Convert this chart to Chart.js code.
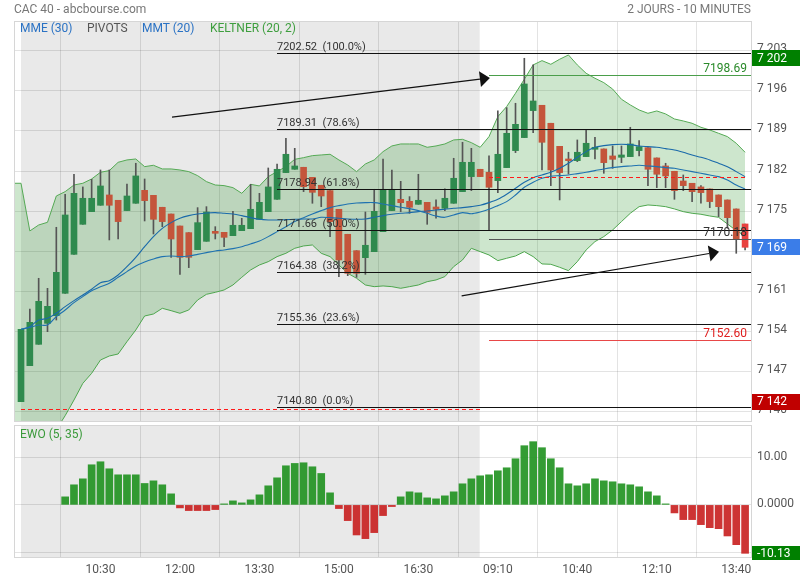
<!DOCTYPE html>
<html>
<head>
<meta charset="utf-8">
<script src="https://cdn.jsdelivr.net/npm/chart.js@4.4.0/dist/chart.umd.min.js"></script>
<style>
  body { margin: 0; background: #fff; font-family: Roboto, sans-serif; }
  #wrap { position: relative; width: 800px; height: 580px; overflow: hidden; }
  canvas { position: absolute; left: 0; }
  .txt { position: absolute; font-size: 12px; line-height: 14px; white-space: pre; }
</style>
</head>
<body>
<div id="wrap">
  <canvas id="main" width="800" height="425" style="top:0"></canvas>
  <canvas id="ewo" width="800" height="155" style="top:425px"></canvas>
  <div class="txt" style="left:14px;top:2px;color:#777">CAC 40 - abcbourse.com</div>
  <div class="txt" style="right:49px;top:2px;color:#777">2 JOURS - 10 MINUTES</div>
  <div class="txt" style="left:20px;top:21px;color:#2a72c4">MME (30)</div>
  <div class="txt" style="left:87px;top:21px;color:#555">PIVOTS</div>
  <div class="txt" style="left:142px;top:21px;color:#2a72c4">MMT (20)</div>
  <div class="txt" style="left:210px;top:21px;color:#3e9e3e">KELTNER (20, 2)</div>
  <div class="txt" style="left:20px;top:427px;color:#3a9a3a">EWO (5, 35)</div>
</div>
<script>
// bougies 10 minutes : index 0..52 = jour 1, 53..82 = jour 2
const opens = [7141.75,7148.03,7151.76,7155.42,7156.76,7160.66,7167.46,7172.70,7174.91,7176.02,
  7177.82,7176.89,7175.09,7176.37,7178.63,7177.76,7175.67,7174.50,7172.41,7171.25,
  7168.28,7169.73,7171.48,7171.30,7170.72,7171.59,7171.94,7173.57,7174.91,7177.06,
  7181.72,7182.30,7182.65,7180.90,7179.51,7178.58,7175.32,7170.96,7168.10,7166.88,
  7167.93,7171.42,7175.09,7177.06,7176.71,7176.19,7176.54,7175.72,7175.49,7176.37,
  7178.40,7181.02,7182.30,7181.78,7180.32,7182.59,7185.56,7187.83,7192.54,7193.47,
  7190.33,7186.31,7184.10,7183.81,7184.51,7185.79,7185.85,7184.63,7184.39,7184.51,
  7185.56,7186.08,7184.28,7182.88,7181.95,7180.26,7179.86,7179.22,7178.87,7177.82,
  7176.95,7175.38,7172.76];
const highs = [7154.38,7157.92,7163.28,7161.53,7172.18,7177.94,7181.43,7179.22,7180.55,7182.18,
  7182.18,7176.89,7179.74,7183.35,7180.61,7177.76,7175.67,7174.50,7172.41,7171.25,
  7175.61,7175.78,7172.29,7171.30,7174.97,7173.75,7179.68,7178.11,7182.53,7183.23,
  7187.71,7185.96,7182.65,7180.90,7179.51,7178.58,7175.32,7170.96,7168.10,7174.85,
  7178.81,7184.10,7182.18,7180.20,7177.53,7181.43,7176.54,7176.95,7178.87,7184.22,
  7187.01,7185.96,7182.30,7184.63,7192.48,7193.06,7193.82,7201.67,7200.51,7193.47,
  7190.33,7186.31,7185.27,7187.42,7189.16,7187.88,7185.85,7186.37,7186.37,7189.63,
  7187.30,7186.08,7184.28,7183.35,7181.95,7181.31,7179.86,7179.45,7178.87,7177.82,
  7176.95,7175.38,7172.76];
const lows = [7141.75,7148.03,7151.76,7153.97,7156.00,7160.66,7167.46,7172.70,7174.91,7176.02,
  7169.97,7170.14,7175.09,7176.37,7173.28,7171.01,7172.29,7166.94,7163.97,7165.14,
  7168.28,7169.73,7170.14,7168.80,7170.72,7171.59,7171.94,7173.57,7174.91,7177.06,
  7181.72,7182.30,7178.40,7176.37,7175.78,7170.55,7163.57,7163.74,7163.45,7163.97,
  7167.93,7171.42,7175.09,7174.91,7174.62,7176.19,7172.70,7173.75,7175.09,7176.37,
  7178.40,7178.58,7181.02,7171.71,7178.23,7182.59,7185.21,7187.83,7188.70,7182.18,
  7179.45,7176.95,7181.48,7183.64,7184.51,7184.10,7181.60,7182.47,7183.46,7184.51,
  7184.63,7179.45,7179.10,7179.10,7177.06,7178.58,7176.66,7176.37,7175.61,7174.04,
  7172.00,7167.64,7168.22];
const closes = [7154.38,7155.60,7159.26,7158.39,7164.32,7174.33,7178.11,7177.24,7177.24,7179.39,
  7176.02,7173.17,7177.64,7181.14,7176.83,7173.57,7173.17,7170.14,7166.94,7166.94,
  7172.99,7174.85,7171.13,7170.43,7172.53,7172.53,7175.32,7176.54,7179.22,7182.30,
  7184.92,7182.88,7179.27,7178.28,7177.64,7173.17,7166.48,7164.15,7164.15,7169.04,
  7174.97,7178.81,7178.81,7176.48,7175.67,7176.89,7174.79,7175.32,7177.24,7180.73,
  7183.52,7183.52,7181.02,7179.16,7184.92,7188.58,7190.15,7197.19,7194.22,7187.01,
  7182.18,7181.72,7183.81,7185.27,7186.84,7186.14,7183.46,7184.04,7184.80,7186.72,
  7186.25,7182.30,7181.43,7181.14,7178.58,7179.45,7178.40,7178.23,7176.66,7175.78,
  7173.86,7170.08,7168.69];

const mme30 = [7154.38,7154.84,7156.00,7156.29,7157.17,7158.33,7159.38,7160.37,7161.36,7162.52,
  7162.87,7163.86,7165.31,7166.94,7168.80,7170.55,7172.00,7172.99,7173.75,7174.21,
  7174.50,7174.68,7174.74,7174.62,7174.50,7174.21,7173.86,7173.57,7173.46,7173.46,
  7173.51,7173.57,7173.63,7173.63,7173.92,7173.86,7173.75,7173.63,7173.57,7173.63,
  7173.92,7174.21,7174.45,7174.62,7174.74,7174.91,7175.03,7175.20,7175.32,7175.49,
  7175.61,7175.78,7176.02,7176.48,7177.06,7177.94,7178.98,7180.03,7180.84,7181.31,
  7181.78,7182.47,7183.35,7184.39,7185.38,7186.14,7186.43,7186.60,7186.66,7186.60,
  7186.37,7186.25,7186.14,7185.91,7185.67,7185.27,7184.80,7184.39,7183.93,7183.35,
  7182.76,7181.89,7181.02];
const mmt20 = [7154.38,7154.72,7155.13,7155.13,7156.59,7157.75,7159.03,7160.08,7161.12,7161.82,
  7162.40,7163.45,7164.44,7165.43,7166.13,7166.65,7167.06,7167.17,7167.06,7167.17,
  7167.46,7167.76,7168.05,7168.22,7168.45,7168.80,7169.27,7169.79,7170.55,7171.42,
  7172.29,7173.17,7173.86,7174.50,7175.09,7175.61,7175.96,7176.25,7176.42,7176.48,
  7176.48,7176.25,7175.96,7175.67,7175.43,7175.09,7174.62,7174.15,7173.92,7174.33,
  7174.74,7174.55,7174.85,7175.32,7175.96,7176.66,7177.82,7179.16,7180.03,7180.73,
  7181.08,7181.19,7181.31,7181.54,7181.78,7182.07,7182.36,7182.59,7182.76,7182.88,
  7183.00,7182.88,7182.76,7182.59,7182.47,7182.18,7181.89,7181.60,7181.31,7181.02,
  7180.44,7179.56,7178.87];

const keltnerHaut = [7179.86,7171.54,7172.58,7173.05,7177.64,7178.40,7179.56,7179.86,7180.61,7181.78,
  7182.07,7183.52,7183.93,7184.10,7182.76,7183.00,7182.36,7182.36,7182.18,7181.89,
  7181.19,7180.15,7179.56,7179.45,7179.10,7178.11,7179.68,7179.39,7181.02,7181.89,
  7182.76,7184.04,7184.33,7184.68,7184.80,7184.92,7183.93,7183.05,7181.89,7183.23,
  7183.93,7185.38,7186.37,7186.72,7186.72,7186.72,7186.14,7186.37,7186.72,7187.42,
  7187.53,7186.95,7186.14,7188.00,7191.49,7193.24,7195.56,7198.01,7200.51,7201.26,
  7200.62,7201.50,7202.25,7200.51,7199.05,7198.18,7197.42,7196.30,7194.52,7193.53,
  7192.65,7192.07,7192.48,7191.96,7191.08,7190.73,7190.33,7189.63,7189.16,7188.58,
  7188.00,7186.84,7185.27];
const keltnerBas = [7127.0,7129.4,7131.9,7134.4,7136.9,7139.3,7142.04,7144.95,7146.70,7149.02,
  7149.72,7150.07,7152.22,7154.26,7156.70,7157.05,7158.04,7157.63,7157.17,7157.75,
  7159.49,7160.48,7160.83,7161.24,7162.11,7163.45,7164.73,7165.60,7166.18,7167.06,
  7167.64,7168.51,7168.92,7169.09,7167.64,7167.06,7165.60,7164.15,7163.28,7162.11,
  7161.82,7161.94,7161.82,7161.53,7161.82,7162.11,7162.69,7162.99,7163.57,7165.31,
  7166.48,7168.51,7167.93,7167.35,7166.36,7166.77,7167.17,7167.93,7167.06,7165.78,
  7165.72,7165.20,7164.61,7166.18,7168.22,7169.68,7170.55,7171.71,7173.17,7174.62,
  7175.78,7176.07,7175.96,7175.78,7175.38,7174.91,7174.62,7174.45,7174.15,7173.92,
  7172.76,7171.60,7170.66];

const ewo = [null,null,null,null,null,1.68,4.20,5.45,8.39,9.02,
  7.55,6.29,6.29,6.29,4.48,5.03,4.20,2.31,-0.63,-1.19,
  -1.19,-1.19,-0.98,0.21,0.84,0.42,1.05,2.10,3.99,5.66,
  8.18,8.67,8.81,7.97,6.57,2.52,-0.77,-3.29,-6.29,-7.06,
  -5.80,-2.24,-0.35,1.68,2.73,2.52,1.47,1.26,1.89,2.73,
  4.41,5.45,6.08,6.29,7.13,7.76,9.65,12.38,13.22,11.96,
  9.65,7.76,4.41,3.99,4.41,5.45,5.03,4.83,4.41,4.20,
  3.78,2.73,1.89,0.21,-1.68,-3.08,-3.08,-4.13,-4.76,-4.97,
  -6.50,-8.32,-10.13];

const xTickPos = [9, 18, 27, 36, 45, 54, 63, 72, 81];
const xTickLabels = ["10:30", "12:00", "13:30", "15:00", "16:30", "09:10", "10:40", "12:10", "13:40"];
const yTicks = [7140, 7147, 7154, 7161, 7168, 7175, 7182, 7189, 7196, 7203];
const ewoTicks = [-10, 0, 10];

// retracements de Fibonacci
const fibValues = [7202.52, 7189.31, 7178.94, 7171.66, 7164.38, 7155.36, 7140.80];
const fibLabels = ["100.0%", "78.6%", "61.8%", "50.0%", "38.2%", "23.6%", "0.0%"];
// pivots du jour 2
const pivotValues = [7198.69, 7170.18, 7152.60];
const pivotColors = ["#4a9e4a", "#555555", "#e84848"];
const pivotTextColors = ["#2a8a2a", "#333333", "#e02020"];
// cl\u00f4tures pr\u00e9c\u00e9dentes (pointill\u00e9s rouges) : jour 1, jour 2
const prevCloses = [7140.4, 7181.02];
// \u00e9tiquettes de valeur sur l'axe
const markerValues = [7201.67, 7168.69, 7141.75];
const markerTexts = ["7 202", "7 169", "7 142"];
const markerColors = ["#008000", "#3b7de8", "#c00000"];
const ewoMarker = -10.13;
// fl\u00e8ches trac\u00e9es [index, cours]
const arrows = [
  { from: [17.1, 7191.4], to: [53.1, 7198.25] },
  { from: [49.9, 7160.2], to: [79.05, 7167.9] },
];

const day1End = 52, day2Start = 53, last = closes.length - 1;
const xMin = -0.68, xMax = 82.67;
const FONT = "Roboto";
const gridColor = "rgba(0,0,0,0.11)";

function fmtPrix(v) {
  const r = Math.round(v);
  return Math.floor(r / 1000) + " " + String(r % 1000).padStart(3, "0");
}

function drawBox(ctx, y, text, color, h) {
  ctx.fillStyle = color;
  ctx.fillRect(752, Math.round(y - h / 2), 48, h);
  ctx.fillStyle = "#fff";
  ctx.font = "12px " + FONT;
  ctx.textAlign = "left";
  ctx.textBaseline = "middle";
  ctx.fillText(text, 757, y + 0.5);
}

function dayBackground(chart) {
  const { ctx, chartArea, scales } = chart;
  const x0 = scales.x.getPixelForValue(0);
  const x1 = scales.x.getPixelForValue(day1End) - 0.5;
  ctx.save();
  ctx.fillStyle = "#e9e9e9";
  ctx.fillRect(x0, chartArea.top, x1 - x0, chartArea.bottom - chartArea.top);
  ctx.restore();
}

function frame(chart) {
  const { ctx, chartArea } = chart;
  ctx.save();
  ctx.strokeStyle = "#d6d6d6";
  ctx.lineWidth = 1;
  ctx.strokeRect(chartArea.left - 0.5, chartArea.top - 0.5,
    chartArea.right - chartArea.left + 1, chartArea.bottom - chartArea.top + 1);
  ctx.restore();
}

function hLine(ctx, x0, x1, y, color, dash) {
  ctx.beginPath();
  ctx.strokeStyle = color;
  ctx.setLineDash(dash || []);
  ctx.moveTo(x0, Math.round(y) + 0.5);
  ctx.lineTo(x1, Math.round(y) + 0.5);
  ctx.stroke();
  ctx.setLineDash([]);
}

// pas de marge automatique autour des axes : la zone de tracé reste fixe
function noPadding(s) {
  s.paddingTop = 0;
  s.paddingBottom = 0;
  s.paddingLeft = 0;
  s.paddingRight = 0;
}

const mainOverlay = {
  id: "mainOverlay",
  beforeDraw: dayBackground,
  afterDatasetsDraw(chart) {
    const { ctx, chartArea, scales } = chart;
    const xs = scales.x, ys = scales.y;
    ctx.save();
    ctx.lineWidth = 1;

    // fibonacci
    const fx = Math.round(xs.getPixelForValue(29));
    ctx.font = "11px " + FONT;
    ctx.textAlign = "left";
    ctx.textBaseline = "bottom";
    fibValues.forEach((v, k) => {
      const y = ys.getPixelForValue(v);
      hLine(ctx, fx, chartArea.right, y, "#111");
      ctx.fillStyle = "#333";
      ctx.fillText(v.toFixed(2) + "  (" + fibLabels[k] + ")", fx, Math.round(y) - 0.5);
    });

    // cl\u00f4tures pr\u00e9c\u00e9dentes
    hLine(ctx, xs.getPixelForValue(0), xs.getPixelForValue(day1End),
      ys.getPixelForValue(prevCloses[0]), "#ff1a1a", [4, 3]);
    hLine(ctx, xs.getPixelForValue(day2Start), xs.getPixelForValue(last),
      ys.getPixelForValue(prevCloses[1]), "#ff1a1a", [4, 3]);

    // pivots
    const px = xs.getPixelForValue(day2Start);
    ctx.font = "12px " + FONT;
    ctx.textAlign = "right";
    pivotValues.forEach((v, k) => {
      const y = ys.getPixelForValue(v);
      hLine(ctx, px, chartArea.right, y, pivotColors[k]);
      ctx.fillStyle = pivotTextColors[k];
      ctx.fillText(v.toFixed(2), chartArea.right - 4, Math.round(y) - 0.5);
    });

    // fl\u00e8ches
    ctx.strokeStyle = "#111";
    ctx.fillStyle = "#111";
    ctx.lineWidth = 1.2;
    arrows.forEach((a) => {
      const x0 = xs.getPixelForValue(a.from[0]), y0 = ys.getPixelForValue(a.from[1]);
      const x1 = xs.getPixelForValue(a.to[0]), y1 = ys.getPixelForValue(a.to[1]);
      const ang = Math.atan2(y1 - y0, x1 - x0);
      const bx = x1 - 10 * Math.cos(ang), by = y1 - 10 * Math.sin(ang);
      ctx.beginPath();
      ctx.moveTo(x0, y0);
      ctx.lineTo(bx, by);
      ctx.stroke();
      ctx.beginPath();
      ctx.moveTo(x1, y1);
      ctx.lineTo(bx + 8 * Math.sin(ang), by - 8 * Math.cos(ang));
      ctx.lineTo(bx - 8 * Math.sin(ang), by + 8 * Math.cos(ang));
      ctx.closePath();
      ctx.fill();
    });
    ctx.restore();
  },
  afterDraw(chart) {
    frame(chart);
    const { ctx, scales } = chart;
    ctx.save();
    markerValues.forEach((v, k) => {
      drawBox(ctx, scales.y.getPixelForValue(v), markerTexts[k], markerColors[k], 16);
    });
    ctx.restore();
  },
};

const ewoOverlay = {
  id: "ewoOverlay",
  beforeDraw: dayBackground,
  afterDraw(chart) {
    frame(chart);
    const { ctx, scales } = chart;
    ctx.save();
    drawBox(ctx, scales.y.getPixelForValue(ewoMarker), ewoMarker.toFixed(2), "#008000", 14);
    ctx.restore();
  },
};

const idx = closes.map((c, i) => i);
const upColor = "#2f8a4e", downColor = "#c4553b", lastColor = "#e8423f";
const bodyColors = idx.map((i) => (i === last ? lastColor : closes[i] >= opens[i] ? upColor : downColor));
const asPoints = (arr) => [{ x: xMin, y: arr[0] }].concat(arr.map((v, i) => ({ x: i, y: v })));

function xScale(height, ticks) {
  return {
    type: "linear",
    min: xMin,
    max: xMax,
    offset: false,
    grid: { color: gridColor, drawTicks: false },
    border: { display: false },
    ticks: ticks,
    afterBuildTicks: (s) => { s.ticks = xTickPos.map((v) => ({ value: v })); },
    afterFit: (s) => { s.height = height; noPadding(s); },
  };
}

function yScale(min, max, ticks, labelOffset, fmt) {
  return {
    position: "right",
    min: min,
    max: max,
    grid: { color: gridColor, drawTicks: false },
    border: { display: false },
    afterBuildTicks: (s) => { s.ticks = ticks.map((v) => ({ value: v })); },
    afterFit: (s) => { s.width = 49; noPadding(s); },
    ticks: {
      padding: 6,
      labelOffset: labelOffset,
      color: "#555",
      font: { family: FONT, size: 12 },
      callback: fmt,
    },
  };
}

new Chart(document.getElementById("main"), {
  type: "bar",
  data: {
    datasets: [
      {
        type: "line",
        data: asPoints(keltnerHaut),
        borderColor: "#55aa55",
        borderWidth: 1,
        pointRadius: 0,
        tension: 0,
        fill: "+1",
        backgroundColor: "rgba(38,146,38,0.23)",
        order: 6,
      },
      {
        type: "line",
        data: asPoints(keltnerBas),
        borderColor: "#55aa55",
        borderWidth: 1,
        pointRadius: 0,
        tension: 0,
        fill: false,
        order: 6,
      },
      {
        data: idx.map((i) => ({ x: i, y: [lows[i], highs[i]] })),
        backgroundColor: "#555",
        barThickness: 1,
        grouped: false,
        borderWidth: 0,
        order: 4,
      },
      {
        data: idx.map((i) => ({ x: i, y: [opens[i], closes[i]] })),
        backgroundColor: bodyColors,
        barThickness: 6,
        minBarLength: 1,
        grouped: false,
        borderWidth: 0,
        order: 3,
      },
      {
        type: "line",
        data: mmt20.map((v, i) => ({ x: i, y: v })),
        borderColor: "#1f72b0",
        borderWidth: 1.1,
        pointRadius: 0,
        tension: 0.3,
        fill: false,
        order: 1,
      },
      {
        type: "line",
        data: mme30.map((v, i) => ({ x: i, y: v })),
        borderColor: "#1a6aaa",
        borderWidth: 1.1,
        pointRadius: 0,
        tension: 0.3,
        fill: false,
        order: 1,
      },
    ],
  },
  options: {
    responsive: false,
    animation: false,
    layout: { padding: { left: 15, top: 22, right: 0, bottom: 4 } },
    plugins: { legend: { display: false }, tooltip: { enabled: false } },
    scales: {
      x: xScale(0, { display: false }),
      y: yScale(7138.38, 7208.0, yTicks, -1.5, (v) => fmtPrix(v)),
    },
  },
  plugins: [mainOverlay],
});

new Chart(document.getElementById("ewo"), {
  type: "bar",
  data: {
    datasets: [
      {
        data: idx.filter((i) => ewo[i] !== null).map((i) => ({ x: i, y: ewo[i] })),
        backgroundColor: idx.filter((i) => ewo[i] !== null)
          .map((i) => (ewo[i] >= 0 ? "rgba(30,145,30,0.9)" : "rgba(200,30,30,0.9)")),
        barThickness: 7,
        grouped: false,
        borderWidth: 0,
      },
    ],
  },
  options: {
    responsive: false,
    animation: false,
    layout: { padding: { left: 15, top: 1, right: 0, bottom: 0 } },
    plugins: { legend: { display: false }, tooltip: { enabled: false } },
    scales: {
      x: xScale(23, {
        padding: 6,
        maxRotation: 0,
        autoSkip: false,
        color: "#555",
        font: { family: FONT, size: 12 },
        callback: (v) => xTickLabels[xTickPos.indexOf(v)],
      }),
      y: yScale(-10.9, 16.5, ewoTicks, -0.5, (v) => (v === 0 ? "0.0000" : v.toFixed(2))),
    },
  },
  plugins: [ewoOverlay],
});
</script>
</body>
</html>
